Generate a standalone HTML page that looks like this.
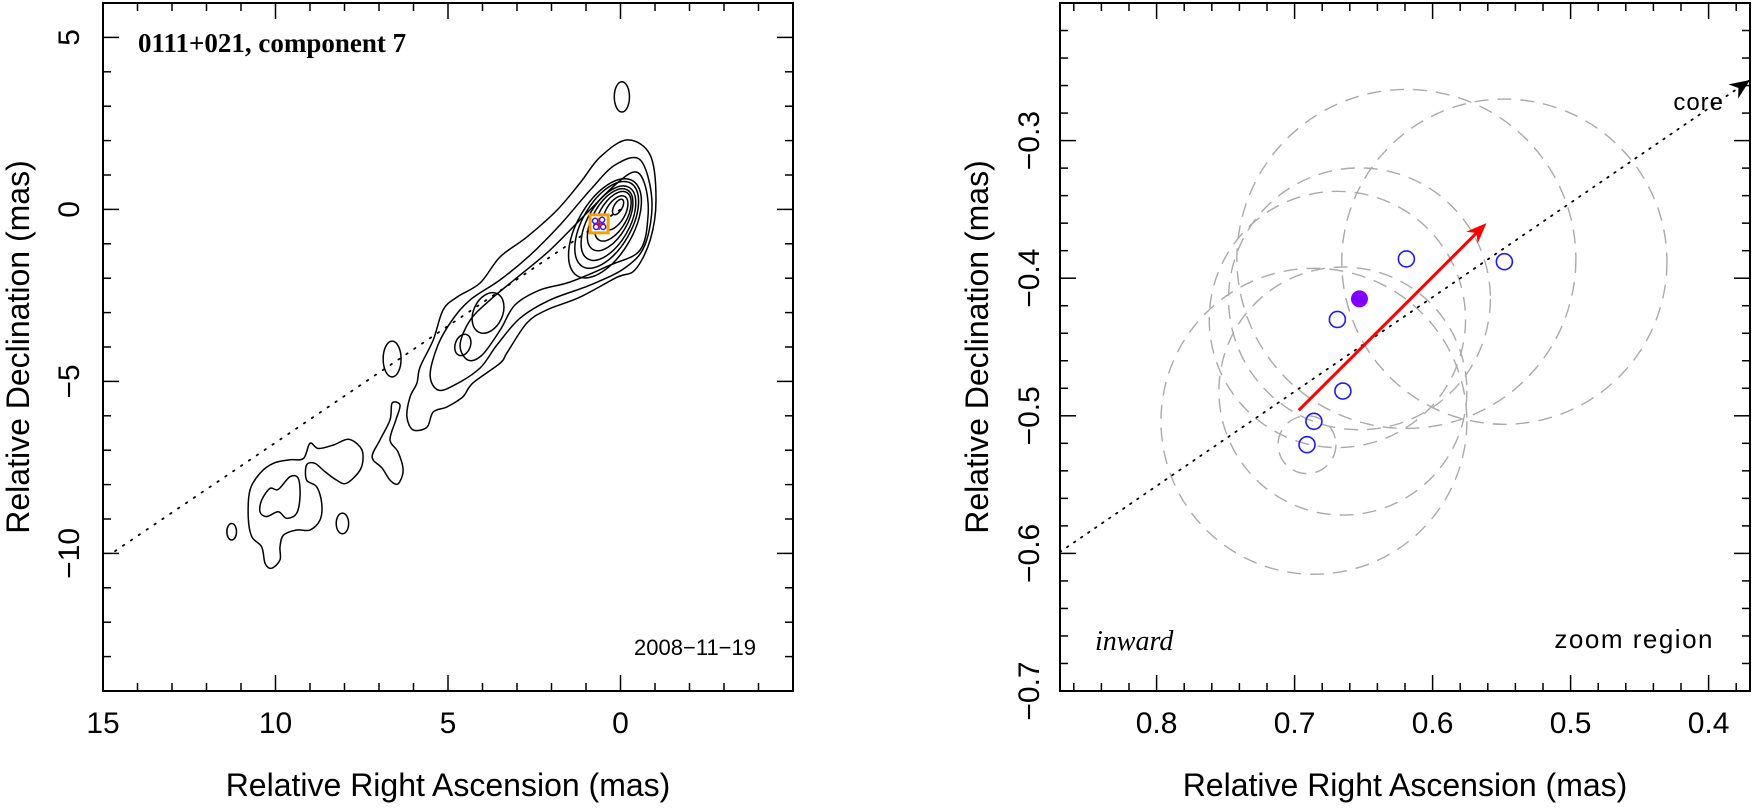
<!DOCTYPE html>
<html><head><meta charset="utf-8"><style>
html,body{margin:0;padding:0;background:#fff}
svg{display:block}
text{font-family:"Liberation Sans",sans-serif;fill:#000}
</style></head><body>
<svg id="chart" width="1753" height="811" viewBox="0 0 1753 811" xmlns="http://www.w3.org/2000/svg">
<g id="left"></g>
<g id="right"></g>
</svg>
<script>
// ---------- LEFT PANEL DATA ----------
const lxTicks = [15, 10, 5, 0];
const lyTicks = [5, 0, -5, -10];
const outerContourX = [-0.19,-0.86,-1.03,-0.86,-0.42,0.10,1.17,2.13,2.71,3.29,3.49,4.28,4.57,5.03,5.43,5.61,6.01,6.19,6.10,5.90,5.81,5.43,5.14,4.74,4.07,3.49,2.71,1.84,1.17,0.59];
const outerContourY = [2.02,1.58,0.27,-0.89,-1.76,-1.97,-2.55,-2.92,-3.30,-4.17,-4.47,-5.05,-5.45,-5.74,-5.89,-6.33,-6.41,-6.03,-5.45,-5.05,-4.58,-3.80,-2.92,-2.55,-2.14,-1.38,-0.80,-0.02,0.77,1.52];
const contour2X = [-0.57,-0.91,-0.71,-0.13,0.88,2.04,2.91,3.58,4.07,4.80,5.29,5.52,5.29,4.88,4.36,3.49,2.62,1.75,0.88,0.16];
const contour2Y = [1.44,0.27,-1.03,-1.70,-2.20,-2.63,-3.16,-3.94,-4.61,-5.10,-5.25,-4.81,-3.94,-3.22,-2.63,-2.05,-1.33,-0.45,0.56,1.29];
const contour3X = [-0.71,-0.80,-0.57,0.30,1.46,2.33,3.06,3.49,4.01,4.42,4.65,4.36,3.78,2.91,2.04,1.03,0.16,-0.42];
const contour3Y = [0.71,-0.16,-1.18,-1.62,-2.11,-2.34,-2.78,-3.51,-4.23,-4.38,-3.94,-3.22,-2.63,-1.91,-1.18,-0.16,0.71,1.09];
const sBlobX = [6.62,6.68,6.97,7.20,6.91,6.68,6.45,6.30,6.45,6.68,6.51,6.39];
const sBlobY = [-5.63,-6.12,-6.70,-7.20,-7.52,-7.87,-7.98,-7.58,-7.05,-6.70,-6.12,-5.69];
const llBlobX = [9.19,9.0,8.76,8.32,7.89,7.55,7.46,7.55,7.94,8.23,8.57,8.86,9.10,9.10,8.81,8.66,8.71,9.0,9.39,9.77,9.87,9.87,10.11,10.30,10.40,10.69,10.79,10.74,10.45,10.06,9.58];
const llBlobY = [-7.24,-6.80,-6.95,-6.85,-6.68,-6.90,-7.19,-7.58,-7.96,-7.87,-7.62,-7.38,-7.43,-7.87,-8.06,-8.54,-9.03,-9.32,-9.32,-9.47,-9.81,-10.19,-10.43,-10.29,-9.81,-9.51,-8.93,-8.16,-7.67,-7.38,-7.28];
const llInnerX = [10.40,10.16,9.92,9.58,9.34,9.29,9.39,9.68,9.92,10.26,10.45];
const llInnerY = [-8.45,-8.11,-8.14,-7.77,-7.82,-8.35,-8.84,-8.98,-8.79,-8.93,-8.79];
// ellipse islands: cx, cy, rx, ry, rotation(deg)
const islandCx = [-0.04, 6.62, 11.27, 8.06, 3.84, 4.57];
const islandCy = [3.27, -4.35, -9.37, -9.13, -3.01, -3.94];
const islandRx = [0.22, 0.26, 0.14, 0.18, 0.42, 0.22];
const islandRy = [0.44, 0.52, 0.24, 0.30, 0.62, 0.32];
const islandRot = [0, 0, 0, 0, 25, 20];
// nested core contours
const coreCx = [0.07,0.15,0.22,0.30,0.35,0.40,0.45];
const coreCy = [0.07,-0.10,-0.20,-0.30,-0.40,-0.45,-0.55];
const coreRx = [0.12,0.28,0.40,0.50,0.60,0.70,0.80];
const coreRy = [0.25,0.55,0.80,1.00,1.20,1.40,1.60];
const jetSlope = 0.678;
const jetStart = 14.65;
const compX = 0.62, compY = -0.42;

// ---------- RIGHT PANEL DATA ----------
const rxTicks = [0.8, 0.7, 0.6, 0.5, 0.4];
const ryTicks = [-0.3, -0.4, -0.5, -0.6, -0.7];
const epochX = [0.548, 0.619, 0.669, 0.665, 0.686, 0.691];
const epochY = [-0.388, -0.386, -0.430, -0.482, -0.504, -0.521];
const epochErr = [0.118, 0.123, 0.093, 0.090, 0.111, 0.021];
const meanX = 0.653, meanY = -0.415, meanErr = 0.095;
const arrowFromX = 0.697, arrowFromY = -0.496, arrowToX = 0.561, arrowToY = -0.360;
const rJetX0 = 0.87, rJetY0 = -0.599, rJetX1 = 0.37, rJetY1 = -0.256;

const NS = "http://www.w3.org/2000/svg";
function mk(parent, tag, attrs, txt){
  const e = document.createElementNS(NS, tag);
  for (const k in attrs) e.setAttribute(k, attrs[k]);
  if (txt !== undefined) e.textContent = txt;
  parent.appendChild(e);
  return e;
}
// axis functions
const lx = v => 103 + (15 - v) * 34.5;
const ly = v => 3 + (6 - v) * 34.4;
const rx = v => 1060 + (0.87 - v) * 1380;
const ry = v => 3 + (-0.2 - v) * 1376;

function smoothClosed(px, py){
  const n = px.length; let d = `M${px[0]},${py[0]}`;
  for (let i = 0; i < n; i++){
    const p0=(i-1+n)%n, p1=i, p2=(i+1)%n, p3=(i+2)%n;
    const c1x = px[p1] + (px[p2]-px[p0])/6, c1y = py[p1] + (py[p2]-py[p0])/6;
    const c2x = px[p2] - (px[p3]-px[p1])/6, c2y = py[p2] - (py[p3]-py[p1])/6;
    d += ` C${c1x.toFixed(1)},${c1y.toFixed(1)} ${c2x.toFixed(1)},${c2y.toFixed(1)} ${px[p2].toFixed(1)},${py[p2].toFixed(1)}`;
  }
  return d + "Z";
}

const L = document.getElementById('left');
const R = document.getElementById('right');

// ---- left frame & ticks ----
let f = mk(L, 'rect', {x:103, y:3, width:690, height:688, fill:'none', stroke:'#000', 'stroke-width':2});


for (let v = 15; v >= -5; v--){
  const big = (v % 5 === 0), len = big ? 16 : 8, x = lx(v);
  mk(L,'line',{x1:x,y1:691,x2:x,y2:691-len,stroke:'#000','stroke-width':1.5});
  mk(L,'line',{x1:x,y1:3,x2:x,y2:3+len,stroke:'#000','stroke-width':1.5});
}
for (let v = 6; v >= -14; v--){
  const big = (v % 5 === 0), len = big ? 16 : 8, y = ly(v);
  mk(L,'line',{x1:103,y1:y,x2:103+len,y2:y,stroke:'#000','stroke-width':1.5});
  mk(L,'line',{x1:793,y1:y,x2:793-len,y2:y,stroke:'#000','stroke-width':1.5});
}
lxTicks.forEach(v => {
  const t = mk(L,'text',{x:lx(v), y:733, 'font-size':30, 'text-anchor':'middle'}, String(v));
  
  
});
lyTicks.forEach(v => {
  const t = mk(L,'text',{x:0, y:0, 'font-size':30, 'text-anchor':'middle', transform:`translate(79,${ly(v)}) rotate(-90)`}, v < 0 ? '\u2212' + Math.abs(v) : String(v));
  
  
});
let t = mk(L,'text',{x:448, y:796, 'font-size':32, 'text-anchor':'middle'}, 'Relative Right Ascension (mas)');


t = mk(L,'text',{x:0,y:0,'font-size':32,'text-anchor':'middle',transform:'translate(29,347) rotate(-90)'}, 'Relative Declination (mas)');


t = mk(L,'text',{x:138,y:52,'font-size':27,'font-weight':'bold',style:'font-family:"Liberation Serif",serif'}, '0111+021, component 7');


t = mk(L,'text',{x:756,y:655,'font-size':22,'text-anchor':'end',fill:'#333'}, '2008\u221211\u221219');



// jet dotted line
let ln = mk(L,'line',{x1:lx(jetStart),y1:ly(-jetStart*jetSlope),x2:lx(0),y2:ly(0),stroke:'#000','stroke-width':1.8,'stroke-dasharray':'1.5 8','stroke-linecap':'round'});



// contours
const cst = {fill:'none', stroke:'#000', 'stroke-width':1.5};
function contour(xs, ys, name){
  const p = mk(L,'path',Object.assign({d: smoothClosed(xs.map(lx), ys.map(ly))}, cst));
  
  
}
contour(outerContourX, outerContourY, 'contour-outer');
contour(contour2X, contour2Y, 'contour-level-2');
contour(contour3X, contour3Y, 'contour-level-3');
contour(sBlobX, sBlobY, 'contour-s-blob');
contour(llBlobX, llBlobY, 'contour-lower-left');
contour(llInnerX, llInnerY, 'contour-lower-left-inner');
islandCx.forEach((cx, i) => {
  const e = mk(L,'ellipse',Object.assign({cx:lx(cx), cy:ly(islandCy[i]), rx:islandRx[i]*34.5, ry:islandRy[i]*34.4, transform:`rotate(${islandRot[i]} ${lx(cx)} ${ly(islandCy[i])})`}, cst));
  
  
});
coreCx.forEach((cx, i) => {
  const e = mk(L,'ellipse',Object.assign({cx:lx(cx), cy:ly(coreCy[i]), rx:coreRx[i]*34.5, ry:coreRy[i]*34.4, transform:`rotate(30 ${lx(cx)} ${ly(coreCy[i])})`}, cst));
  
  
});
// component marker
let sq = mk(L,'rect',{x:lx(compX)-9, y:ly(compY)-9, width:18, height:18, fill:'#fff', stroke:'#f5a000', 'stroke-width':3});


[[-4,-3],[3,-4],[-3,3],[4,3]].forEach(o => {
  const c = mk(L,'circle',{cx:lx(compX)+o[0], cy:ly(compY)+o[1], r:2.6, fill:'none', stroke:'#2020ff', 'stroke-width':1.5});
  
  
});
mk(L,'line',{x1:lx(compX)-6,y1:ly(compY),x2:lx(compX)+6,y2:ly(compY),stroke:'#e00','stroke-width':1.5});
mk(L,'line',{x1:lx(compX),y1:ly(compY)-6,x2:lx(compX),y2:ly(compY)+6,stroke:'#e00','stroke-width':1.5});

// ---- right panel ----
f = mk(R, 'rect', {x:1060, y:3, width:690, height:688, fill:'none', stroke:'#000', 'stroke-width':2});


for (let k = 0; k <= 25; k++){
  const v = 0.86 - k*0.02; const big = Math.abs(Math.round(v*10) - v*10) < 1e-6; const len = big?16:8; const x = rx(v);
  if (x < 1060 || x > 1750) continue;
  mk(R,'line',{x1:x,y1:691,x2:x,y2:691-len,stroke:'#000','stroke-width':1.5});
  mk(R,'line',{x1:x,y1:3,x2:x,y2:3+len,stroke:'#000','stroke-width':1.5});
}
for (let k = 0; k <= 25; k++){
  const v = -0.2 - k*0.02; const big = Math.abs(Math.round(v*10) - v*10) < 1e-6; const len = big?16:8; const y = ry(v);
  mk(R,'line',{x1:1060,y1:y,x2:1060+len,y2:y,stroke:'#000','stroke-width':1.5});
  mk(R,'line',{x1:1750,y1:y,x2:1750-len,y2:y,stroke:'#000','stroke-width':1.5});
}
rxTicks.forEach(v => {
  const tt = mk(R,'text',{x:rx(v), y:733, 'font-size':30, 'text-anchor':'middle'}, v.toFixed(1));
  
  
});
ryTicks.forEach(v => {
  const tt = mk(R,'text',{x:0, y:0, 'font-size':30, 'text-anchor':'middle', transform:`translate(1039,${ry(v)}) rotate(-90)`}, '\u2212' + Math.abs(v).toFixed(1));
  
  
});
t = mk(R,'text',{x:1405, y:796, 'font-size':32, 'text-anchor':'middle'}, 'Relative Right Ascension (mas)');


t = mk(R,'text',{x:0,y:0,'font-size':32,'text-anchor':'middle',transform:'translate(988,347) rotate(-90)'}, 'Relative Declination (mas)');


t = mk(R,'text',{x:1095,y:650,'font-size':28,style:'font-family:"Liberation Serif",serif;font-style:italic'}, 'inward');


t = mk(R,'text',{x:1714,y:648,'font-size':26,'text-anchor':'end',fill:'#333','letter-spacing':1.5}, 'zoom region');


t = mk(R,'text',{x:1724,y:110,'font-size':24,'text-anchor':'end',fill:'#222','letter-spacing':1}, 'core');



const clip = mk(R,'clipPath',{id:'rclip'});
mk(clip,'rect',{x:1060,y:3,width:690,height:688});
const RG = mk(R,'g',{'clip-path':'url(#rclip)'});



// error circles
epochX.forEach((x, i) => {
  const c = mk(RG,'circle',{cx:rx(x), cy:ry(epochY[i]), r:epochErr[i]*1378, fill:'none', stroke:'#aaa', 'stroke-width':1.4, 'stroke-dasharray':'14 9'});
  
  
});
let mc = mk(RG,'circle',{cx:rx(meanX), cy:ry(meanY), r:meanErr*1378, fill:'none', stroke:'#aaa', 'stroke-width':1.4, 'stroke-dasharray':'14 9'});



// jet line + core arrow
ln = mk(RG,'line',{x1:rx(rJetX0),y1:ry(rJetY0),x2:rx(rJetX1),y2:ry(rJetY1),stroke:'#000','stroke-width':1.8,'stroke-dasharray':'1.5 7','stroke-linecap':'round'});


{
  const x2 = rx(rJetX1), y2 = ry(rJetY1), ang = Math.atan2(y2 - ry(rJetY0), x2 - rx(rJetX0));
  const hx = (l, a) => x2 - l*Math.cos(ang + a), hy = (l, a) => y2 - l*Math.sin(ang + a);
  const h = mk(R,'path',{d:`M${x2},${y2} L${hx(22,0.4)},${hy(22,0.4)} L${hx(14,0)},${hy(14,0)} L${hx(22,-0.4)},${hy(22,-0.4)} Z`, fill:'#000'});
  
  
}
// epoch points
epochX.forEach((x, i) => {
  const c = mk(RG,'circle',{cx:rx(x), cy:ry(epochY[i]), r:8, fill:'none', stroke:'#1a1aff', 'stroke-width':1.6});
  
  
});
mc = mk(RG,'circle',{cx:rx(meanX), cy:ry(meanY), r:8.5, fill:'#7f00ff'});


// motion arrow
{
  const x1 = rx(arrowFromX), y1 = ry(arrowFromY), x2 = rx(arrowToX), y2 = ry(arrowToY);
  const ang = Math.atan2(y2-y1, x2-x1);
  const a = mk(RG,'line',{x1:x1,y1:y1,x2:x2 - 10*Math.cos(ang),y2:y2 - 10*Math.sin(ang),stroke:'#ff0000','stroke-width':3});
  
  
  const hx = (l, d) => x2 - l*Math.cos(ang + d), hy = (l, d) => y2 - l*Math.sin(ang + d);
  const h = mk(RG,'path',{d:`M${x2},${y2} L${hx(22,0.38)},${hy(22,0.38)} L${hx(14,0)},${hy(14,0)} L${hx(22,-0.38)},${hy(22,-0.38)} Z`, fill:'#ff0000'});
  
  
}
</script>
</body></html>
